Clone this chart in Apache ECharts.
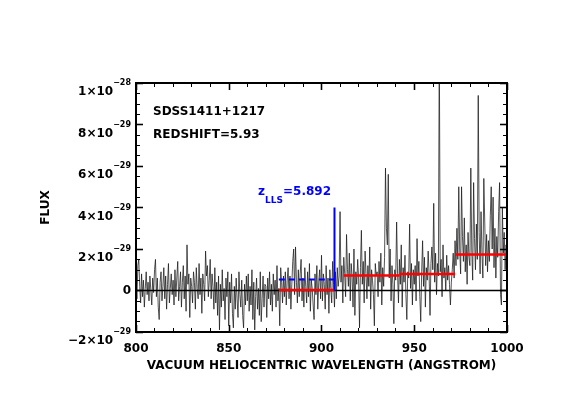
<!DOCTYPE html>
<html><head><meta charset="utf-8">
<script src="https://cdn.jsdelivr.net/npm/echarts@6/dist/echarts.min.js"></script>
<style>html,body{margin:0;padding:0;background:#fff}
#c,#o{position:absolute;left:0;top:0;width:564px;height:415px}
#o{pointer-events:none}</style>
</head><body><div id="c"></div><div id="o"></div>
<script>
// Wavelength grid of the spectrum (Angstrom)
const lambdaStart = 800;
const lambdaStep = 0.5;
// Flux in units of 1e-30 (one row per 10 Angstrom)
const flux = [
  3, -4, 12, 15, 2, -6, 8, -3, 5, -8, 1, 9, -2, 4, -5, 7, 0, -7, 6, -1,
  10, 15, -3, 6, -8, -14, 4, 9, -5, 2, 11, -4, 7, -9, 3, 13, -6, 1, 8, -2,
  5, -7, 10, -3, 6, 14, -5, 2, 9, -8, 4, 12, -4, 7, -10, 22, 3, 8, -13, 6,
  2, -6, 9, 4, -9, 11, 1, -4, 13, -2, 6, -11, 8, 3, -5, 19, 7, 12, -3, 5,
  15, -4, 8, 2, -9, 11, -6, 4, -12, 7, -19, 3, -8, 10, -5, 1, -14, 6, -3, 9,
  -17, 4, -6, 8, -11, -18, 2, -9, 6, -4, -13, 9, -2, -8, 5, -12, -18, 3, -7, 7,
  -5, 8, -10, 2, -7, 10, -14, 4, -19, -3, 6, -9, 1, -12, 9, -15, -4, 7, -8, 3,
  2, -13, 6, -4, 9, -7, 3, -10, 8, -2, 5, -8, 12, -5, 1, -17, 11, 4, -6, 7,
  -3, 9, -7, 5, 11, -4, 7, -9, 3, 14, 20, -2, 21, 4, -6, 10, -3, 8, 15, -5,
  6, -8, 11, 2, -6, 9, -3, 13, -10, 5, 1, -7, -14, 8, -2, 12, -9, 4, 10, -4,
  17, -5, 8, 3, -9, 12, -2, 6, -11, 10, 1, -6, 14, 3, -8, 9, -4, 11, 2, 7,
  38, 4, 12, -6, 16, 8, -3, 27, 10, 2, 18, -5, 13, 7, -8, 20, -12, 9, 3, 15,
  6, -18, 11, 29, 3, 14, -6, 19, 8, -4, 12, 2, 21, -9, 10, 5, -2, -17, 13, 7,
  9, -3, 14, 4, 18, -7, 11, 2, 16, 59, 30, 22, 56, 6, 20, -5, 12, 3, -16, 10,
  5, 33, 8, -6, 15, 3, 22, -8, 11, 4, 17, -2, -14, 9, 6, 32, 1, 13, -7, 10,
  3, 12, -5, 25, 7, 14, -3, -15, 9, 24, 2, 16, -8, 11, 5, 19, 8, -12, 13, 21,
  10, 42, 4, 18, -2, 13, 7, 120, 9, 15, -3, 22, 6, 11, 0, 17, 5, 12, 3, -7,
  4, 10, 18, 6, 24, 12, 30, 15, 50, 20, 8, 50, 26, 14, 35, 9, 22, 3, 28, 16,
  12, 59, 20, 5, 52, 25, 10, 32, 15, 94, 28, 8, 38, 18, 6, 54, 33, 12, 27, 9,
  24, 14, 36, 50, 20, 45, 11, 30, 6, 26, 16, 38, 52, -2, -7, 40, 18, 28, 10, 22,
  15
];
// Continuum levels (red): start, end, level(1e-30)
const redSegStart = [877, 912, 942, 972];
const redSegEnd   = [907, 942, 972, 1000];
const redSegLevel = [0.3, 7.2, 8.0, 17.4];
// LLS marker
const llsWave = 907;
const llsTop = 40;
const llsDashStart = 877;
const llsDashLevel = 5.3;
const llsLabel = '5.892';
const objName = 'SDSS1411+1217';
const redshiftText = 'REDSHIFT=5.93';
// axes
const xMin = 800, xMax = 1000, xStep = 50;
const yMin = -20, yMax = 100, yStep = 20;

const FONT = 'DejaVu Sans';
function makeGrid() { return { left: 136, top: 83, width: 371, height: 249 }; }
const specData = flux.map((v, i) => [lambdaStart + i * lambdaStep, v]);

function yLabel(v) {
  if (v === 0) return '{z|0}';
  const e = Math.floor(Math.log10(Math.abs(v)) + 1e-9);
  const mant = Math.round(v / Math.pow(10, e));
  const exp = e - 30;
  const ms = (mant < 0 ? '\u2212' : '') + Math.abs(mant) + '\u00d710';
  const es = (exp < 0 ? '\u2212' : '') + Math.abs(exp);
  return '{m|' + ms + '}{e|' + es + '}';
}

function axisStyle(minorSplit) {
  return {
    axisLine: { show: true, onZero: false, lineStyle: { color: '#000', width: 2 } },
    axisTick: { show: true, inside: true, length: 7, lineStyle: { color: '#000', width: 1.3 } },
    minorTick: { show: true, splitNumber: minorSplit, length: 4, lineStyle: { color: '#000', width: 1 } },
    splitLine: { show: false },
    minorSplitLine: { show: false }
  };
}
// labels kept "shown" but invisible on the mirrored axes
function ghostLabel() { return { show: true, color: 'rgba(0,0,0,0)', fontSize: 10 }; }

const series = [
  { type: 'line', data: specData, symbol: 'none', clip: true,
    lineStyle: { color: '#1a1a1a', width: 0.75 }, z: 2, silent: true },
  { type: 'line', data: [[xMin, 0], [xMax, 0]], symbol: 'none',
    lineStyle: { color: '#000', width: 1.5 }, z: 3 }
];
redSegStart.forEach((s, i) => {
  series.push({ type: 'line', data: [[s, redSegLevel[i]], [redSegEnd[i], redSegLevel[i]]],
    symbol: 'none', lineStyle: { color: '#ff0000', width: 2.5 }, z: 4 });
});
series.push({ type: 'line', data: [[llsDashStart, llsDashLevel], [llsWave, llsDashLevel]],
  symbol: 'none', lineStyle: { color: '#0000ff', width: 2, type: [6, 4] }, z: 5 });
series.push({ type: 'line', data: [[llsWave, 0], [llsWave, llsTop]],
  symbol: 'none', lineStyle: { color: '#0000ff', width: 2 }, z: 5 });
series.push({ type: 'scatter', data: [[llsWave, llsTop]], symbolSize: 1,
  itemStyle: { color: 'rgba(0,0,0,0)', opacity: 1 }, z: 6, silent: true,
  label: { show: true, position: 'left', distance: 3, offset: [0, -12],
    formatter: '{z|z}{s|LLS}{n|=' + llsLabel + '}',
    rich: {
      z: { fontFamily: FONT, fontWeight: 'bold', fontSize: 12, color: '#0000ff', verticalAlign: 'bottom', padding: [0, 0, 7, 0] },
      s: { fontFamily: FONT, fontWeight: 'bold', fontSize: 9, color: '#0000ff', verticalAlign: 'bottom' },
      n: { fontFamily: FONT, fontWeight: 'bold', fontSize: 12, color: '#0000ff', verticalAlign: 'bottom', padding: [0, 0, 7, 0] }
    } } });

const chart = echarts.init(document.getElementById('c'));
chart.setOption({
  animation: false,
  grid: makeGrid(),
  xAxis: [
    Object.assign({ type: 'value', position: 'bottom', min: xMin, max: xMax, interval: xStep,
      name: 'VACUUM HELIOCENTRIC WAVELENGTH (ANGSTROM)', nameLocation: 'middle', nameGap: 26,
      nameTextStyle: { fontFamily: FONT, fontWeight: 'bold', fontSize: 12, color: '#000' },
      axisLabel: { margin: 11, fontFamily: FONT, fontWeight: 'bold', fontSize: 12, color: '#000',
        formatter: v => String(v) }
    }, axisStyle(5)),
    Object.assign({ type: 'value', position: 'top', min: xMin, max: xMax, interval: xStep,
      axisLabel: ghostLabel() }, axisStyle(5))
  ],
  yAxis: [
    Object.assign({ type: 'value', position: 'left', min: yMin, max: yMax, interval: yStep,
      name: 'FLUX', nameLocation: 'middle', nameGap: 84, nameRotate: 90,
      nameTextStyle: { fontFamily: FONT, fontWeight: 'bold', fontSize: 12, color: '#000' },
      axisLabel: { margin: 5, formatter: yLabel,
        rich: {
          z: { fontFamily: FONT, fontWeight: 'bold', fontSize: 12, color: '#000' },
          m: { fontFamily: FONT, fontWeight: 'bold', fontSize: 12, color: '#000', verticalAlign: 'bottom', padding: [18, 0, 0, 0] },
          e: { fontFamily: FONT, fontWeight: 'bold', fontSize: 8, color: '#000', verticalAlign: 'bottom', padding: [0, 0, 11, 0] }
        } }
    }, axisStyle(4)),
    Object.assign({ type: 'value', position: 'right', min: yMin, max: yMax, interval: yStep,
      axisLabel: ghostLabel() }, axisStyle(4))
  ],
  graphic: [
    { type: 'text', left: 153, top: 106,
      style: { text: objName, font: 'bold 12px "DejaVu Sans"', fill: '#000' } },
    { type: 'text', left: 153, top: 129,
      style: { text: redshiftText, font: 'bold 12px "DejaVu Sans"', fill: '#000' } }
  ],
  series: series
});

// overlay on the same grid and scales, carrying the inside ticks on all four sides
const tickChart = echarts.init(document.getElementById('o'));
tickChart.setOption({
  animation: false,
  grid: makeGrid(),
  xAxis: [
    Object.assign({ type: 'value', position: 'bottom', min: xMin, max: xMax, interval: xStep, axisLabel: ghostLabel() }, axisStyle(5)),
    Object.assign({ type: 'value', position: 'top', min: xMin, max: xMax, interval: xStep, axisLabel: ghostLabel() }, axisStyle(5))
  ],
  yAxis: [
    Object.assign({ type: 'value', position: 'left', min: yMin, max: yMax, interval: yStep, axisLabel: ghostLabel() }, axisStyle(4)),
    Object.assign({ type: 'value', position: 'right', min: yMin, max: yMax, interval: yStep, axisLabel: ghostLabel() }, axisStyle(4))
  ],
  series: [{ type: 'line', data: [[xMin, 0], [xMax, 0]], symbol: 'none', silent: true,
    lineStyle: { opacity: 0 } }]
});
</script>
</body></html>
